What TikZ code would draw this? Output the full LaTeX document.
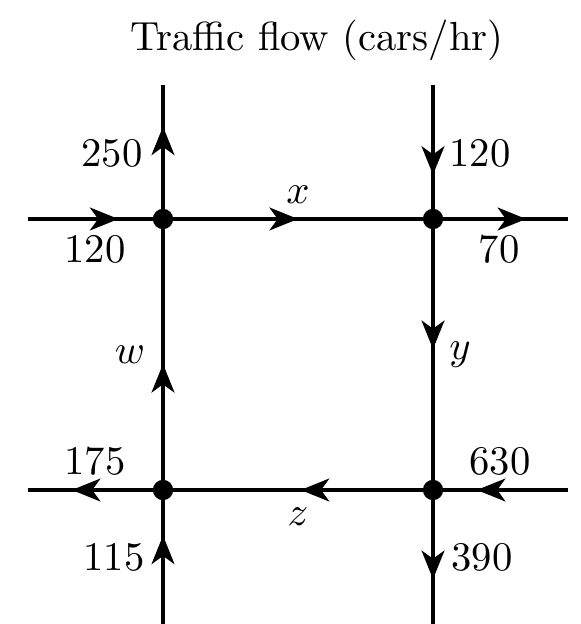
\documentclass[tikz,border=0pt]{standalone}
\usetikzlibrary{arrows.meta,decorations.markings}
\begin{document}
\begin{tikzpicture}[x=0.246pt,y=-0.246pt,
  road/.style={line width=1pt},
  flowat/.style={road,postaction={decorate},decoration={markings,
     mark=at position #1 with {\arrow{Stealth[length=7pt,width=5.6pt,inset=2pt]}}}},
  junction/.style={circle,fill=black,inner sep=0pt,minimum size=5pt},
  lbl/.style={inner sep=0pt}]
\useasboundingbox (0,0) rectangle (580,624);
\node[lbl] (title) at (317,40) {Traffic flow (cars/hr)};
% end points
\coordinate (N1) at (163,85);
\coordinate (N2) at (433,85);
\coordinate (S1) at (163,624);
\coordinate (S2) at (433,624);
\coordinate (W1) at (28,219);
\coordinate (E1) at (568,219);
\coordinate (W2) at (28,490);
\coordinate (E2) at (568,490);
% junction positions
\coordinate (P1) at (163,219);
\coordinate (P2) at (433,219);
\coordinate (P3) at (163,490);
\coordinate (P4) at (433,490);
% roads
\draw[flowat=0.69] (P1) -- (N1);
\draw[flowat=0.67] (W1) -- (P1);
\draw[flowat=0.50] (P1) -- (P2);
\draw[flowat=0.69] (P2) -- (E1);
\draw[flowat=0.67] (N2) -- (P2);
\draw[flowat=0.48] (P2) -- (P4);
\draw[flowat=0.465] (P3) -- (P1);
\draw[flowat=0.49] (P4) -- (P3);
\draw[flowat=0.675] (P3) -- (W2);
\draw[flowat=0.675] (E2) -- (P4);
\draw[flowat=0.66] (S1) -- (P3);
\draw[flowat=0.665] (P4) -- (S2);
% junction dots
\node[junction] (J1) at (P1) {};
\node[junction] (J2) at (P2) {};
\node[junction] (J3) at (P3) {};
\node[junction] (J4) at (P4) {};
% labels
\node[lbl] (l250) at (112,153) {250};
\node[lbl] (l120a) at (95,249) {120};
\node[lbl] (l120b) at (480,153) {120};
\node[lbl] (l70) at (499,249) {70};
\node[lbl] (l175) at (95,461) {175};
\node[lbl] (l115) at (114,557) {115};
\node[lbl] (l630) at (500,461) {630};
\node[lbl] (l390) at (482,557) {390};
\node[lbl] (lx) at (298,195) {$x$};
\node[lbl] (lw) at (130,355) {$w$};
\node[lbl] (ly) at (460,355) {$y$};
\node[lbl] (lz) at (298,517) {$z$};
\end{tikzpicture}
\end{document}
